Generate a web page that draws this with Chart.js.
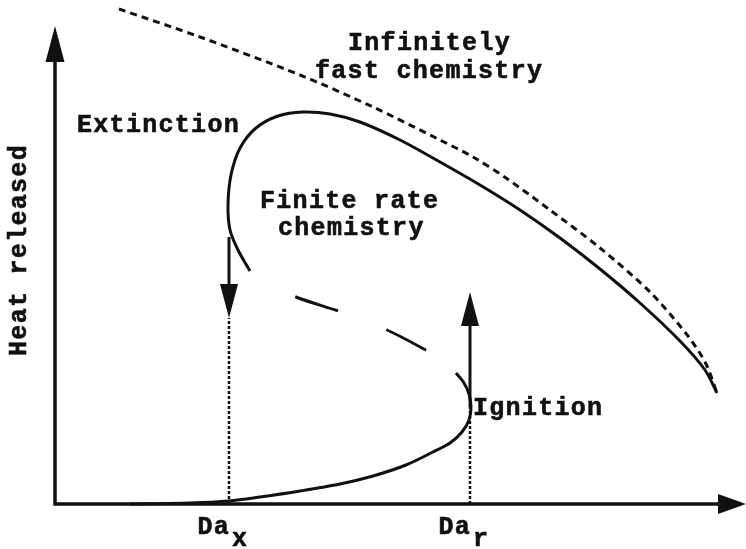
<!DOCTYPE html>
<html>
<head>
<meta charset="utf-8">
<title>Heat released vs Damköhler number</title>
<script src="https://cdn.jsdelivr.net/npm/chart.js@4.4.1/dist/chart.umd.min.js"></script>
<style>
  html, body { margin: 0; padding: 0; background: #fff; }
  canvas { display: block; }
</style>
</head>
<body>
<canvas id="sCurve" width="746" height="549"></canvas>
<script>
// S-curve: heat released against Damkohler number, arbitrary units

// infinitely fast chemistry limit (dotted)
const fastDa   = [64, 145, 245, 318, 385, 418, 451, 495, 545, 595, 633, 651, 662];
const fastHeat = [495, 467, 429, 397, 364, 347, 326, 294, 256, 212, 168, 140, 111];

// burning branch, from the extinction turning point up and over
const upperDa   = [195, 183, 175, 173, 176, 185, 201, 223, 248, 275, 305, 345, 385, 425, 465, 505, 545, 585, 625, 650, 662];
const upperHeat = [233, 254, 274, 299, 329, 356, 376, 388, 392, 390, 382, 364, 342, 319, 294, 266, 235, 201, 163, 134, 111];

// unstable middle branch (dashed)
const middleDa   = [195, 218, 241, 286, 332, 367, 385, 401];
const middleHeat = [233, 219, 207, 192, 174, 156, 145, 131];

// weakly reacting branch, through the ignition turning point
const lowerDa   = [401, 409, 414, 416, 414, 407, 395, 378, 351, 318, 285, 245, 205, 174, 135, 75];
const lowerHeat = [131, 121, 110, 97, 84, 72, 61, 52, 39, 28, 20, 13, 7, 3, 1, 0];

// critical Damkohler numbers and the heat levels of the jumps
const daExtinction = 174;
const daIgnition = 415;
const extinctionJump = [267, 186];  // from, to
const ignitionJump = [97, 212];

const DA_MAX = 691;
const HEAT_MAX = 504;
const AXIS_TOP = 478;

const notes = [
  { text: 'Infinitely',     da: 293, heat: 454 },
  { text: 'fast chemistry', da: 260, heat: 426 },
  { text: 'Extinction',     da: 22,  heat: 372 },
  { text: 'Finite rate',    da: 205, heat: 296 },
  { text: 'chemistry',      da: 223, heat: 269 },
  { text: 'Ignition',       da: 418, heat: 89 }
];

const INK = '#111';
const FONT = 'bold 25px "Liberation Mono", "DejaVu Sans Mono", monospace';

const pts = (xs, ys) => xs.map((x, i) => ({ x: x, y: ys[i] }));

function curve(data, extra) {
  return Object.assign({
    data: data,
    showLine: true,
    borderColor: INK,
    borderWidth: 3,
    pointRadius: 0,
    tension: 0.3,
    fill: false,
    clip: false
  }, extra || {});
}

function arrowHead(ctx, tipX, tipY, dx, dy, len, half) {
  const bx = tipX - dx * len, by = tipY - dy * len;
  ctx.beginPath();
  ctx.moveTo(tipX, tipY);
  ctx.lineTo(bx - dy * half, by + dx * half);
  ctx.lineTo(bx + dy * half, by - dx * half);
  ctx.closePath();
  ctx.fill();
}

// vertical arrow with a solid shaft, from one heat level to another
function jumpArrow(ctx, x, y0, y1) {
  const dir = y1 > y0 ? 1 : -1;
  const len = 34;
  ctx.beginPath();
  ctx.moveTo(x, y0);
  ctx.lineTo(x, y1 - dir * len);
  ctx.stroke();
  arrowHead(ctx, x, y1, 0, dir, len, 9);
}

function label(ctx, text, x, y) {
  ctx.fillText(text, x, y);
  ctx.strokeText(text, x, y);
}

const decorations = {
  id: 'decorations',
  beforeDatasetsDraw(chart) {
    const ctx = chart.ctx;
    const xs = chart.scales.x, ys = chart.scales.y;
    const x0 = xs.getPixelForValue(0), y0 = ys.getPixelForValue(0);
    const xEnd = xs.getPixelForValue(DA_MAX);
    const yEnd = ys.getPixelForValue(AXIS_TOP);
    ctx.save();
    ctx.strokeStyle = INK;
    ctx.fillStyle = INK;
    ctx.lineWidth = 3.5;
    ctx.lineCap = 'butt';
    ctx.beginPath();
    ctx.moveTo(x0, y0 + 1.5);
    ctx.lineTo(x0, yEnd + 30);
    ctx.moveTo(x0 - 1.5, y0);
    ctx.lineTo(xEnd - 24, y0);
    ctx.stroke();
    arrowHead(ctx, x0, yEnd, 0, -1, 36, 9.5);
    arrowHead(ctx, xEnd, y0, 1, 0, 28, 10);
    ctx.restore();
  },
  afterDatasetsDraw(chart) {
    const ctx = chart.ctx;
    const xs = chart.scales.x, ys = chart.scales.y;
    ctx.save();
    ctx.strokeStyle = INK;
    ctx.fillStyle = INK;
    ctx.lineWidth = 3;
    jumpArrow(ctx, xs.getPixelForValue(daExtinction),
      ys.getPixelForValue(extinctionJump[0]), ys.getPixelForValue(extinctionJump[1]));
    jumpArrow(ctx, xs.getPixelForValue(daIgnition),
      ys.getPixelForValue(ignitionJump[0]), ys.getPixelForValue(ignitionJump[1]));

    ctx.font = FONT;
    ctx.letterSpacing = '1.3px';
    ctx.lineWidth = 0.6;
    ctx.textBaseline = 'alphabetic';
    ctx.textAlign = 'left';
    notes.forEach(n => {
      label(ctx, n.text, xs.getPixelForValue(n.da), ys.getPixelForValue(n.heat));
    });

    // Da labels with subscripts under the axis
    const base = ys.getPixelForValue(0);
    [[daExtinction, 'x'], [daIgnition, 'r']].forEach(([da, sub]) => {
      const px = xs.getPixelForValue(da);
      ctx.textAlign = 'right';
      label(ctx, 'Da', px + 1, base + 30);
      ctx.textAlign = 'left';
      label(ctx, sub, px + 3, base + 42);
    });

    // y axis title
    ctx.translate(26, 250);
    ctx.rotate(-Math.PI / 2);
    ctx.textAlign = 'center';
    label(ctx, 'Heat released', 0, 0);
    ctx.restore();
  }
};

new Chart(document.getElementById('sCurve'), {
  type: 'scatter',
  data: {
    datasets: [
      curve(pts(fastDa, fastHeat), { borderDash: [7, 5] }),
      curve(pts(upperDa, upperHeat)),
      curve(pts(middleDa, middleHeat), { borderDash: [45, 52], borderDashOffset: 45 }),
      curve(pts(lowerDa, lowerHeat)),
      curve(pts([daExtinction, daExtinction], [0, extinctionJump[1]]),
        { borderDash: [3, 2], borderWidth: 2.5, tension: 0 }),
      curve(pts([daIgnition, daIgnition], [0, ignitionJump[0]]),
        { borderDash: [3, 2], borderWidth: 2.5, tension: 0 })
    ]
  },
  options: {
    responsive: false,
    animation: false,
    layout: { padding: { left: 55, right: 0, top: 0, bottom: 45 } },
    scales: {
      x: { type: 'linear', min: 0, max: DA_MAX, display: false },
      y: { type: 'linear', min: 0, max: HEAT_MAX, display: false }
    },
    plugins: {
      legend: { display: false },
      tooltip: { enabled: false }
    }
  },
  plugins: [decorations]
});
</script>
</body>
</html>
